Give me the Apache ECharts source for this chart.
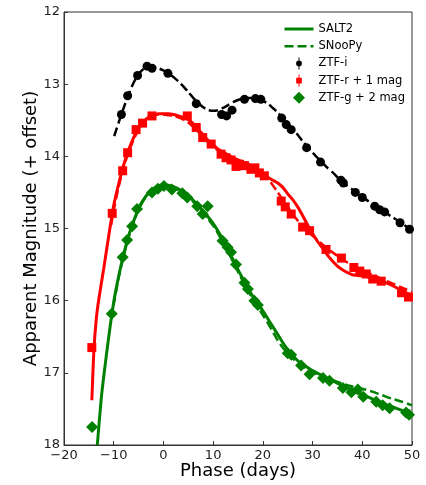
<!DOCTYPE html>
<html>
<head>
<meta charset="utf-8">
<script src="https://cdn.jsdelivr.net/npm/echarts@6/dist/echarts.min.js"></script>
<style>
  html, body { margin: 0; padding: 0; background: #fff; }
  #chart { width: 426px; height: 485px; }
</style>
</head>
<body>
<div id="chart"></div>
<script>
// Light curves: phase (days) vs. apparent magnitude, with offsets applied to r and g.
const xTicks = [-20, -10, 0, 10, 20, 30, 40, 50];
const yTicks = [12, 13, 14, 15, 16, 17, 18];

// Photometry [phase, mag]
const ztfI = [[-8.45,13.42],[-7.2,13.16],[-5.2,12.88],[-3.3,12.75],[-2.3,12.78],[0.9,12.85],[6.6,13.27],
  [11.7,13.42],[12.7,13.44],[13.8,13.36],[16.3,13.21],[18.5,13.2],[19.6,13.21],[23.8,13.47],[24.7,13.56],
  [25.7,13.63],[28.8,13.88],[31.6,14.08],[35.7,14.33],[36.2,14.37],[38.6,14.5],[40.0,14.57],[42.5,14.69],
  [43.5,14.74],[44.5,14.77],[47.6,14.92],[49.5,15.01]];

const ztfR = [[-14.4,16.65],[-10.3,14.79],[-8.2,14.2],[-7.2,13.95],[-5.5,13.63],[-4.2,13.54],[-2.3,13.44],
  [4.8,13.44],[6.6,13.6],[7.9,13.74],[9.6,13.83],[11.6,13.97],[12.6,14.02],[13.6,14.05],[14.6,14.14],
  [15.3,14.11],[16.3,14.13],[17.6,14.18],[18.4,14.16],[19.3,14.23],[20.3,14.27],[23.7,14.62],[24.5,14.7],
  [25.7,14.8],[28.0,14.98],[29.4,15.03],[32.7,15.29],[35.8,15.41],[38.3,15.54],[39.5,15.59],[40.8,15.63],
  [42.1,15.7],[43.8,15.73],[47.9,15.89],[49.3,15.95]];

const ztfG = [[-14.35,17.75],[-10.4,16.18],[-8.2,15.4],[-7.3,15.16],[-6.3,14.97],[-5.3,14.73],[-2.3,14.5],
  [-1.1,14.45],[0.1,14.41],[1.7,14.46],[3.8,14.51],[4.8,14.57],[6.8,14.69],[7.9,14.8],[8.9,14.69],
  [11.9,15.17],[12.9,15.26],[13.6,15.33],[14.6,15.5],[16.3,15.75],[17.0,15.84],[18.3,16.0],[19.0,16.06],
  [25.0,16.73],[25.7,16.75],[27.7,16.9],[29.4,17.02],[32.1,17.07],[33.4,17.11],[36.1,17.21],[37.8,17.27],
  [39.1,17.23],[40.2,17.33],[42.8,17.4],[44.1,17.45],[45.5,17.49],[48.8,17.55],[49.4,17.58]];

// Model fits
const salt2G = [[-13.3,18.0],[-12.5,17.35],[-11.9,16.99],[-11,16.5],[-10,16.02],[-9,15.66],[-8,15.36],
  [-7,15.1],[-6,14.9],[-5,14.72],[-4,14.6],[-3,14.51],[-2,14.45],[-1,14.41],[0,14.39],[1,14.4],[2,14.42],
  [3,14.45],[4,14.5],[5,14.55],[6,14.61],[7,14.68],[8,14.76],[9,14.84],[10,14.93],[11,15.04],[12,15.16],
  [13,15.29],[14,15.43],[15,15.57],[16,15.7],[17,15.83],[18,15.94],[19,16.04],[20,16.14],[21,16.25],
  [22,16.36],[23,16.47],[24,16.58],[25,16.68],[26,16.76],[27,16.83],[28,16.88],[30,16.97],[32,17.04],
  [34,17.11],[36,17.18],[38,17.24],[40,17.3],[42,17.36],[44,17.42],[46,17.47],[48,17.52],[50,17.57]];

const salt2R = [[-14.4,17.38],[-14.0,16.7],[-13.5,16.25],[-13,15.98],[-12,15.55],[-11,15.1],[-10,14.68],
  [-9,14.38],[-8,14.12],[-7,13.91],[-6,13.74],[-5,13.61],[-4,13.52],[-3,13.46],[-2,13.43],[-1,13.41],
  [0,13.41],[1,13.41],[2,13.42],[3,13.44],[4,13.46],[5,13.49],[6,13.55],[7,13.63],[8,13.7],[9,13.78],
  [10,13.84],[11,13.9],[12,13.94],[13,13.98],[14,14.02],[15,14.05],[16,14.08],[17,14.1],[18,14.14],
  [19,14.19],[20,14.24],[21,14.29],[22,14.33],[23,14.37],[24,14.43],[25,14.52],[26,14.6],[27,14.7],
  [28,14.82],[29,14.95],[30,15.07],[31,15.18],[32,15.27],[33,15.37],[34,15.45],[35,15.52],[36,15.57],
  [37,15.61],[38,15.64],[39,15.65],[40,15.66],[41,15.67],[42,15.68],[43,15.7],[44,15.73],[46,15.79],
  [48,15.86],[50,15.93]];

const snoopyG = [[-10.5,16.25],[-10,16.05],[-9,15.68],[-8,15.38],[-7,15.12],[-6,14.91],[-5,14.74],
  [-4,14.61],[-3,14.52],[-2,14.46],[-1,14.42],[0,14.4],[1,14.41],[2,14.43],[3,14.47],[4,14.52],[5,14.57],
  [6,14.63],[7,14.7],[8,14.78],[9,14.87],[10,14.96],[11,15.07],[12,15.19],[13,15.32],[14,15.46],[15,15.6],
  [16,15.73],[17,15.86],[18,15.98],[19,16.09],[20,16.2],[21,16.31],[22,16.43],[23,16.55],[24,16.65],
  [25,16.73],[26,16.8],[27,16.86],[28,16.91],[30,16.99],[32,17.05],[34,17.1],[36,17.15],[38,17.19],
  [40,17.22],[42,17.26],[44,17.31],[46,17.36],[48,17.4],[50,17.45]];

const snoopyR = [[-10.5,14.95],[-10,14.75],[-9,14.42],[-8,14.15],[-7,13.94],[-6,13.77],[-5,13.63],
  [-4,13.53],[-3,13.47],[-2,13.44],[-1,13.42],[0,13.42],[1,13.43],[2,13.44],[3,13.46],[4,13.49],[5,13.53],
  [6,13.59],[7,13.66],[8,13.73],[9,13.81],[10,13.87],[11,13.92],[12,13.96],[13,14.0],[14,14.04],[15,14.07],
  [16,14.1],[17,14.13],[18,14.16],[19,14.2],[20,14.25],[21,14.31],[22,14.4],[23,14.5],[24,14.6],[25,14.7],
  [26,14.8],[27,14.89],[28,14.97],[29,15.04],[30,15.1],[31,15.16],[32,15.22],[33,15.28],[34,15.33],
  [35,15.38],[36,15.43],[37,15.47],[38,15.51],[39,15.55],[40,15.58],[42,15.64],[44,15.7],[46,15.76],
  [48,15.82],[50,15.88]];

const snoopyI = [[-9.9,13.72],[-9,13.53],[-8,13.33],[-7,13.14],[-6,12.98],[-5,12.86],[-4,12.79],
  [-3,12.76],[-2,12.76],[-1,12.78],[0,12.81],[1,12.85],[2,12.9],[3,12.96],[4,13.03],[5,13.11],[6,13.19],
  [7,13.26],[8,13.32],[9,13.36],[10,13.37],[11,13.36],[12,13.33],[13,13.29],[14,13.25],[15,13.22],
  [16,13.2],[17,13.19],[18,13.19],[19,13.2],[20,13.23],[21,13.27],[22,13.33],[23,13.39],[24,13.47],
  [25,13.55],[26,13.62],[27,13.7],[28,13.79],[29,13.87],[30,13.95],[31,14.02],[32,14.09],[33,14.16],
  [34,14.22],[35,14.29],[36,14.35],[37,14.41],[38,14.46],[39,14.51],[40,14.56],[42,14.66],[44,14.75],
  [46,14.84],[48,14.93],[50,15.03]];

const GREEN = '#008000', RED = '#ff0000', BLACK = '#000000';
const FONT = 'DejaVu Sans';

// legend marker shapes: symbol with a short vertical error bar
const iconCircle = 'path://M9.2,0h1.6v20h-1.6z M10,5.2a4.8,4.8 0 1,1 -0.001,0z';
const iconSquare = 'path://M9.2,0h1.6v20h-1.6z M5.3,5.3h9.4v9.4h-9.4z';
const iconDiamond = 'path://M10,3.5L16.5,10L10,16.5L3.5,10z';

function fitLine(name, data, color, dashed) {
  return {
    name: name, type: 'line', data: data, showSymbol: false, symbol: 'none',
    smooth: 0.2, clip: true, z: 3,
    lineStyle: { color: color, width: dashed ? 2.5 : 3, type: dashed ? [9, 4] : 'solid' },
    itemStyle: { color: color },
    emphasis: { disabled: true }
  };
}
function points(name, data, color, symbol, size) {
  return {
    name: name, type: 'scatter', data: data, symbol: symbol, symbolSize: size, z: 2,
    itemStyle: { color: color, opacity: 1 },
    emphasis: { disabled: true }
  };
}

const chart = echarts.init(document.getElementById('chart'), null, { renderer: 'canvas' });
chart.setOption({
  animation: false,
  backgroundColor: '#ffffff',
  grid: { left: 64, right: 14, top: 12, bottom: 40, outerBoundsMode: 'none', containLabel: false,
    show: true, borderColor: '#333', borderWidth: 1, backgroundColor: 'transparent' },
  legend: {
    orient: 'vertical', left: 278, top: 18, itemGap: 5.2, itemWidth: 29, itemHeight: 12,
    textStyle: { fontFamily: FONT, fontSize: 11.5, color: '#000' },
    data: [
      { name: 'SALT2', itemStyle: { opacity: 0 }, lineStyle: { width: 3 } },
      { name: 'SNooPy', itemStyle: { opacity: 0 }, lineStyle: { width: 2.5 } },
      { name: 'ZTF-i', icon: iconCircle, itemStyle: { color: BLACK } },
      { name: 'ZTF-r + 1 mag', icon: iconSquare, itemStyle: { color: RED } },
      { name: 'ZTF-g + 2 mag', icon: iconDiamond, itemStyle: { color: GREEN } }
    ]
  },
  xAxis: {
    type: 'value', min: xTicks[0], max: xTicks[xTicks.length - 1], interval: 10,
    name: 'Phase (days)', nameLocation: 'middle', nameGap: 17, nameMoveOverlap: false,
    nameTextStyle: { fontFamily: FONT, fontSize: 18, color: '#000' },
    axisLine: { show: true, onZero: false, lineStyle: { color: '#333', width: 1 } },
    axisTick: { show: true, inside: true, length: 4, lineStyle: { color: '#333' } },
    axisLabel: { fontFamily: FONT, fontSize: 13, color: '#222', margin: 4,
      formatter: v => (v < 0 ? '\u2212' + Math.abs(v) : String(v)) },
    splitLine: { show: false }
  },
  yAxis: {
    type: 'value', inverse: true, min: yTicks[0], max: yTicks[yTicks.length - 1], interval: 1,
    name: 'Apparent Magnitude (+ offset)', nameLocation: 'middle', nameGap: 24, nameMoveOverlap: false,
    nameTextStyle: { fontFamily: FONT, fontSize: 18, color: '#000' },
    axisLine: { show: true, onZero: false, lineStyle: { color: '#333', width: 1 } },
    axisTick: { show: true, inside: true, length: 4, lineStyle: { color: '#333' } },
    axisLabel: { fontFamily: FONT, fontSize: 13, color: '#222', margin: 4 },
    splitLine: { show: false }
  },
  series: [
    fitLine('SALT2', salt2G, GREEN, false),
    fitLine('SALT2', salt2R, RED, false),
    fitLine('SNooPy', snoopyG, GREEN, true),
    fitLine('SNooPy', snoopyR, RED, true),
    fitLine('SNooPy', snoopyI, BLACK, true),
    points('ZTF-i', ztfI, BLACK, 'circle', 9),
    points('ZTF-r + 1 mag', ztfR, RED, 'rect', 9),
    points('ZTF-g + 2 mag', ztfG, GREEN, 'diamond', 12)
  ]
});
</script>
</body>
</html>
